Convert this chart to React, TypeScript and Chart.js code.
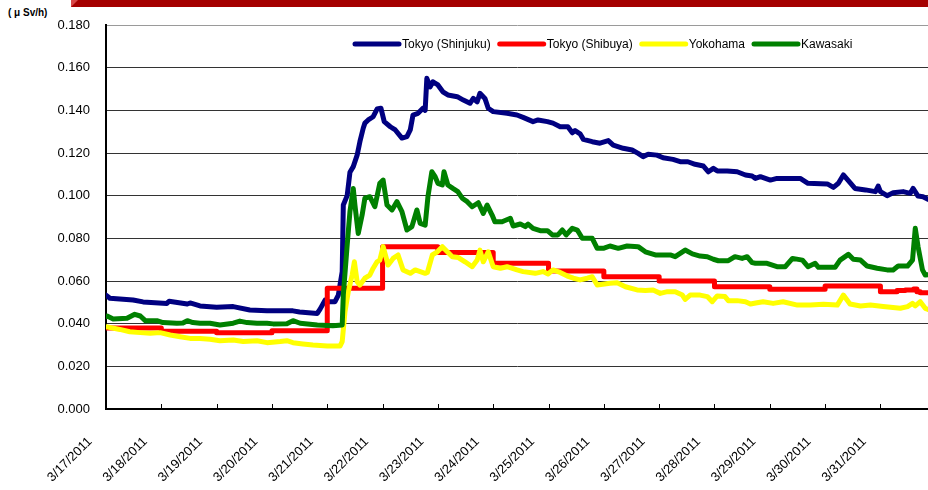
import React, { useEffect, useRef } from "react";
import { Chart, registerables } from "chart.js";

Chart.register(...registerables);

// ---- Data ----
const dateLabels = [
  "3/17/2011", "3/18/2011", "3/19/2011", "3/20/2011", "3/21/2011",
  "3/22/2011", "3/23/2011", "3/24/2011", "3/25/2011", "3/26/2011",
  "3/27/2011", "3/28/2011", "3/29/2011", "3/30/2011", "3/31/2011",
];
const xMaxDay = 14.86; // days since 3/17 00:00 shown at right edge
const yMax = 0.18;
const yStep = 0.02;

const seriesNames = ["Tokyo (Shinjuku)", "Tokyo (Shibuya)", "Yokohama", "Kawasaki"];
const seriesColors = ["#000080", "#FF0000", "#FFFF00", "#008000"];

// Tokyo (Shinjuku)
const shinjukuDays = [
  0, 0.07, 0.49, 0.67, 1.1, 1.14, 1.47, 1.52, 1.7, 2.0, 2.3, 2.6, 2.91, 3.38, 3.5, 3.82,
  3.87, 3.96, 4.01, 4.14, 4.2, 4.27, 4.29, 4.36, 4.41, 4.47, 4.54, 4.59, 4.65, 4.68, 4.74,
  4.83, 4.9, 4.97, 5.03, 5.14, 5.23, 5.35, 5.44, 5.5, 5.55, 5.64, 5.73, 5.77, 5.8, 5.86,
  5.91, 6.0, 6.09, 6.18, 6.35, 6.46, 6.58, 6.64, 6.71, 6.76, 6.85, 6.91, 7.0, 7.25, 7.43,
  7.54, 7.72, 7.81, 7.98, 8.08, 8.21, 8.35, 8.43, 8.48, 8.57, 8.63, 8.79, 8.93, 9.08, 9.17,
  9.35, 9.51, 9.62, 9.71, 9.8, 9.96, 10.07, 10.25, 10.38, 10.52, 10.65, 10.8, 10.89, 10.98,
  11.05, 11.23, 11.41, 11.56, 11.68, 11.74, 11.83, 12.01, 12.13, 12.55, 12.69, 13.04, 13.15,
  13.24, 13.33, 13.42, 13.54, 13.73, 13.91, 13.96, 14.0, 14.12, 14.23, 14.41, 14.54, 14.59,
  14.68, 14.77, 14.86,
];
const shinjukuValues = [
  0.0534, 0.0519, 0.0511, 0.0502, 0.0495, 0.0505, 0.0492, 0.0497, 0.0483, 0.0477, 0.048,
  0.0464, 0.046, 0.046, 0.0455, 0.0448, 0.0468, 0.051, 0.0503, 0.0503, 0.0534, 0.0644,
  0.0956, 0.1, 0.111, 0.1136, 0.119, 0.1253, 0.1316, 0.134, 0.1355, 0.137, 0.1406, 0.141,
  0.1347, 0.1323, 0.1308, 0.127, 0.1277, 0.1308, 0.1378, 0.1386, 0.141, 0.14, 0.155,
  0.151, 0.1534, 0.1519, 0.1487, 0.1472, 0.1464, 0.1448, 0.1433, 0.1456, 0.144, 0.148,
  0.1456, 0.141, 0.1394, 0.1386, 0.1378, 0.1367, 0.1347, 0.1355, 0.1347, 0.134, 0.1323,
  0.1323, 0.1295, 0.1305, 0.129, 0.1264, 0.1253, 0.1246, 0.1258, 0.1237, 0.1222, 0.1214,
  0.1198, 0.1183, 0.1194, 0.119, 0.1178, 0.117, 0.1159, 0.1159, 0.1147, 0.1139, 0.1112,
  0.1128, 0.1116, 0.1116, 0.1112, 0.1097, 0.1092, 0.1081, 0.1089, 0.1073, 0.1081, 0.1081,
  0.1058, 0.1055, 0.1039, 0.1058, 0.1097, 0.107, 0.1034, 0.1027, 0.1019, 0.1045, 0.1019,
  0.1, 0.1014, 0.1019, 0.1011, 0.1034, 0.0998, 0.0995, 0.0983,
];

// Tokyo (Shibuya) – daily step values
const shibuyaDays = [
  0, 1, 2, 3, 4, 5, 6, 7, 8, 9, 10, 11, 12, 13, 14, 14.3, 14.45, 14.6, 14.66, 14.72, 14.86,
];
const shibuyaValues = [
  0.038, 0.0364, 0.0358, 0.0367, 0.0566, 0.076, 0.0734, 0.0683, 0.0647, 0.062, 0.06,
  0.0573, 0.0561, 0.0577, 0.055, 0.0556, 0.0558, 0.0562, 0.055, 0.0545, 0.0545,
];

// Yokohama
const yokohamaDays = [
  0, 0.25, 0.43, 0.62, 0.8, 0.98, 1.16, 1.34, 1.52, 1.7, 1.88, 2.06, 2.3, 2.48, 2.73, 2.91,
  3.15, 3.27, 3.38, 3.56, 3.74, 4.0, 4.23, 4.27, 4.32, 4.38, 4.45, 4.49, 4.54, 4.59, 4.68,
  4.77, 4.83, 4.9, 4.95, 5.01, 5.1, 5.19, 5.28, 5.37, 5.5, 5.59, 5.68, 5.77, 5.81, 5.9,
  5.99, 6.08, 6.17, 6.26, 6.37, 6.49, 6.62, 6.71, 6.76, 6.82, 6.91, 7.0, 7.13, 7.25, 7.43,
  7.54, 7.76, 7.9, 7.99, 8.08, 8.21, 8.34, 8.45, 8.57, 8.7, 8.79, 8.88, 9.11, 9.24, 9.39,
  9.6, 9.75, 9.89, 10.02, 10.15, 10.29, 10.42, 10.47, 10.56, 10.74, 10.87, 10.96, 11.05,
  11.19, 11.25, 11.41, 11.56, 11.65, 11.77, 11.88, 12.06, 12.24, 12.5, 12.73, 12.97, 13.22,
  13.33, 13.45, 13.64, 13.82, 14.05, 14.36, 14.49, 14.58, 14.63, 14.72, 14.81, 14.86,
];
const yokohamaValues = [
  0.0386, 0.0373, 0.0362, 0.0358, 0.0355, 0.0358, 0.0347, 0.0339, 0.0331, 0.0331, 0.0327,
  0.032, 0.0323, 0.0316, 0.032, 0.0311, 0.0316, 0.032, 0.0311, 0.0305, 0.03, 0.0295,
  0.0295, 0.0316, 0.0456, 0.055, 0.0628, 0.069, 0.0597, 0.0581, 0.0613, 0.0628, 0.066,
  0.069, 0.0698, 0.0761, 0.0675, 0.0706, 0.0722, 0.0652, 0.0636, 0.0652, 0.0644, 0.0636,
  0.064, 0.0722, 0.0737, 0.0761, 0.0737, 0.0714, 0.071, 0.069, 0.0667, 0.0698, 0.0745,
  0.069, 0.0737, 0.0667, 0.066, 0.0667, 0.0652, 0.0644, 0.0636, 0.0644, 0.0633, 0.0652,
  0.064, 0.0623, 0.0613, 0.0605, 0.0613, 0.062, 0.0581, 0.0589, 0.0592, 0.0573, 0.0558,
  0.0556, 0.0558, 0.0542, 0.055, 0.055, 0.0534, 0.0514, 0.0534, 0.0534, 0.0527, 0.0503,
  0.053, 0.0527, 0.0508, 0.0508, 0.0503, 0.0492, 0.0498, 0.0503, 0.0495, 0.0503, 0.0487,
  0.0487, 0.0491, 0.0487, 0.0534, 0.0492, 0.0483, 0.0487, 0.048, 0.0472, 0.048, 0.0495,
  0.0483, 0.0503, 0.0472, 0.0467,
];

// Kawasaki
const kawasakiDays = [
  0, 0.02, 0.13, 0.38, 0.52, 0.62, 0.71, 0.92, 1.03, 1.28, 1.39, 1.47, 1.57, 1.7, 1.88,
  2.06, 2.3, 2.42, 2.55, 2.73, 2.91, 3.02, 3.27, 3.38, 3.51, 3.82, 4.1, 4.27, 4.29, 4.36,
  4.41, 4.47, 4.5, 4.56, 4.63, 4.68, 4.77, 4.86, 4.95, 5.01, 5.08, 5.17, 5.26, 5.35, 5.44,
  5.53, 5.62, 5.68, 5.77, 5.82, 5.89, 5.95, 6.0, 6.08, 6.11, 6.18, 6.27, 6.36, 6.44, 6.53,
  6.62, 6.73, 6.82, 6.89, 6.98, 7.03, 7.16, 7.31, 7.36, 7.49, 7.58, 7.63, 7.72, 7.85, 7.98,
  8.07, 8.17, 8.25, 8.32, 8.43, 8.52, 8.61, 8.79, 8.88, 8.99, 9.11, 9.26, 9.42, 9.62, 9.75,
  9.93, 10.2, 10.29, 10.47, 10.6, 10.74, 10.87, 10.98, 11.07, 11.25, 11.37, 11.5, 11.59,
  11.68, 11.74, 11.95, 12.13, 12.28, 12.41, 12.59, 12.69, 12.82, 12.88, 13.18, 13.27,
  13.42, 13.51, 13.64, 13.76, 13.94, 14.12, 14.23, 14.32, 14.49, 14.58, 14.63, 14.68,
  14.76, 14.81, 14.86,
];
const kawasakiValues = [
  0.0433, 0.0436, 0.0422, 0.0425, 0.0444, 0.0436, 0.0414, 0.0414, 0.0405, 0.0402, 0.0403,
  0.0414, 0.0405, 0.0402, 0.0402, 0.0394, 0.0402, 0.0412, 0.0405, 0.0402, 0.0402, 0.0399,
  0.04, 0.0414, 0.0402, 0.0394, 0.039, 0.0394, 0.0534, 0.0769, 0.0925, 0.1034, 0.0956,
  0.0823, 0.0909, 0.0988, 0.0995, 0.0948, 0.1058, 0.1073, 0.0956, 0.0933, 0.0972, 0.0925,
  0.0839, 0.0855, 0.0933, 0.087, 0.0862, 0.0995, 0.1112, 0.1089, 0.1058, 0.105, 0.1112,
  0.105, 0.1034, 0.1019, 0.0988, 0.0972, 0.0948, 0.0967, 0.0917, 0.0956, 0.0909, 0.0878,
  0.0878, 0.0894, 0.0858, 0.0867, 0.0855, 0.0867, 0.0847, 0.0836, 0.0836, 0.0816, 0.0816,
  0.0839, 0.0816, 0.0847, 0.0839, 0.08, 0.08, 0.0753, 0.0753, 0.0764, 0.0753, 0.0764,
  0.0761, 0.0737, 0.0722, 0.0722, 0.0714, 0.0745, 0.0727, 0.0717, 0.0714, 0.0702, 0.0695,
  0.0695, 0.0714, 0.0706, 0.0714, 0.0686, 0.0683, 0.0683, 0.0667, 0.0667, 0.0706, 0.0698,
  0.0667, 0.0683, 0.0664, 0.0664, 0.0698, 0.0725, 0.0702, 0.0698, 0.067, 0.066, 0.0652,
  0.0652, 0.067, 0.067, 0.0698, 0.0847, 0.0761, 0.0652, 0.0628, 0.063,
];

const FONT = "'Liberation Sans', Arial, Helvetica, sans-serif";

const toPoints = (days: number[], values: number[]) =>
  days.map((d, i) => ({ x: d, y: values[i] }));

export default function App() {
  const canvasRef = useRef<HTMLCanvasElement>(null);

  useEffect(() => {
    const canvas = canvasRef.current;
    if (!canvas) return;

    const legendPlugin = {
      id: "insideLegend",
      afterDraw(chart: any) {
        const ctx = chart.ctx;
        ctx.save();
        ctx.font = `12px ${FONT}`;
        ctx.textBaseline = "middle";
        ctx.textAlign = "left";
        let x = 353;
        const y = 44;
        chart.data.datasets.forEach((ds: any) => {
          ctx.strokeStyle = ds.borderColor;
          ctx.lineWidth = 5;
          ctx.lineCap = "round";
          ctx.beginPath();
          ctx.moveTo(x + 2, y);
          ctx.lineTo(x + 46, y);
          ctx.stroke();
          ctx.fillStyle = "#000";
          ctx.fillText(ds.label, x + 49, y + 1);
          x += 49 + ctx.measureText(ds.label).width + 7;
        });
        ctx.restore();
      },
    };

    const innerTicksPlugin = {
      id: "innerTicks",
      afterDraw(chart: any) {
        const xs = chart.scales.x;
        const ctx = chart.ctx;
        const bottom = chart.chartArea.bottom;
        ctx.save();
        ctx.strokeStyle = "#000";
        ctx.lineWidth = 1;
        xs.ticks.forEach((t: any) => {
          const px = Math.round(xs.getPixelForValue(t.value)) + 0.5;
          ctx.beginPath();
          ctx.moveTo(px, bottom);
          ctx.lineTo(px, bottom - 5);
          ctx.stroke();
        });
        ctx.restore();
      },
    };

    const dayLists = [shinjukuDays, shibuyaDays, yokohamaDays, kawasakiDays];
    const valueLists = [shinjukuValues, shibuyaValues, yokohamaValues, kawasakiValues];

    const chart = new Chart(canvas, {
      type: "line",
      data: {
        datasets: seriesNames.map((name, i) => ({
          label: name,
          data: toPoints(dayLists[i], valueLists[i]),
          borderColor: seriesColors[i],
          backgroundColor: seriesColors[i],
          borderWidth: 5,
          pointRadius: 0,
          pointHoverRadius: 0,
          tension: 0,
          fill: false,
          borderJoinStyle: "round" as const,
          borderCapStyle: "round" as const,
          stepped: i === 1 ? ("before" as const) : false,
          order: seriesNames.length - 1 - i,
        })),
      },
      options: {
        animation: false,
        responsive: false,
        maintainAspectRatio: false,
        devicePixelRatio: 1,
        layout: { padding: { top: 25, left: 0, right: 0, bottom: 0 } },
        plugins: {
          legend: { display: false },
          title: { display: false },
          tooltip: { enabled: false },
        },
        scales: {
          x: {
            type: "linear",
            min: 0,
            max: xMaxDay,
            grid: { display: false, drawTicks: false },
            border: { display: true, color: "#000", width: 2 },
            ticks: {
              stepSize: 1,
              includeBounds: false,
              autoSkip: false,
              minRotation: 45,
              maxRotation: 45,
              labelOffset: -16,
              padding: 25,
              color: "#000",
              font: { family: FONT, size: 13 },
              callback: (v: any) => dateLabels[Math.round(Number(v))] ?? "",
            },
            afterFit: (scale: any) => {
              scale.height = 81;
            },
          },
          y: {
            type: "linear",
            min: 0,
            max: yMax,
            grid: {
              drawTicks: false,
              lineWidth: 1,
              color: (ctx: any) =>
                ctx.tick && ctx.tick.value >= yMax - 1e-6 ? "#9a9a9a" : "#333333",
            },
            border: { display: true, color: "#000", width: 2 },
            ticks: {
              stepSize: yStep,
              padding: 16,
              color: "#000",
              font: { family: FONT, size: 13 },
              callback: (v: any) => Number(v).toFixed(3),
            },
            afterFit: (scale: any) => {
              scale.width = 106;
            },
          },
        },
      },
      plugins: [legendPlugin, innerTicksPlugin],
    });

    return () => {
      chart.destroy();
    };
  }, []);

  return (
    <div
      style={{
        position: "absolute",
        left: 0,
        top: 0,
        width: 928,
        height: 490,
        background: "#fff",
        overflow: "hidden",
      }}
    >
      <div
        style={{
          position: "absolute",
          left: 71,
          top: 0,
          width: 857,
          height: 7,
          background: "#d84848",
        }}
      />
      <div
        style={{
          position: "absolute",
          left: 71,
          top: 0,
          width: 857,
          height: 7,
          background: "#a50000",
          clipPath: "polygon(7px 0, 100% 0, 100% 100%, 0 100%)",
        }}
      />
      <span
        style={{
          position: "absolute",
          left: 8,
          top: 6,
          fontFamily: FONT,
          fontWeight: "bold",
          fontSize: 10,
          lineHeight: "14px",
          color: "#000",
          whiteSpace: "nowrap",
        }}
      >
        ( μ Sv/h)
      </span>
      <canvas
        ref={canvasRef}
        width={928}
        height={490}
        style={{ position: "absolute", left: 0, top: 0, width: 928, height: 490 }}
      />
    </div>
  );
}
